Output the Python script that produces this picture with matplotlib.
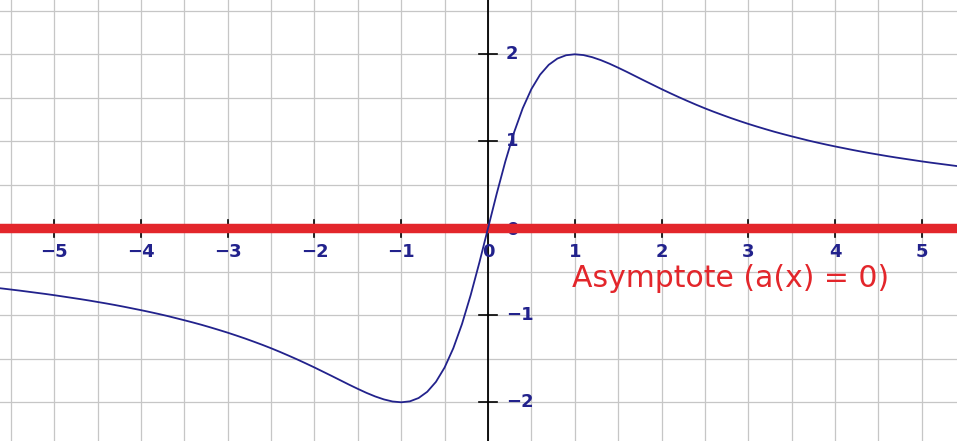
import matplotlib.pyplot as plt
import numpy as np

# curve a(x), sampled every 0.1 from -5.7 to 5.7
xs = np.round(np.arange(-57, 58) / 10, 1)
ys = [-0.681, -0.692, -0.704, -0.716, -0.729, -0.742, -0.755, -0.769, -0.784, -0.799,
      -0.814, -0.830, -0.847, -0.864, -0.882, -0.901, -0.921, -0.941, -0.962, -0.984,
      -1.007, -1.032, -1.057, -1.083, -1.110, -1.139, -1.169, -1.200, -1.233, -1.267,
      -1.303, -1.340, -1.379, -1.420, -1.463, -1.507, -1.553, -1.600, -1.649, -1.698,
      -1.748, -1.798, -1.846, -1.892, -1.933, -1.967, -1.991, -2.000, -1.989, -1.951,
      -1.879, -1.765, -1.600, -1.379, -1.101, -0.769, -0.396,
      0.000,
      0.396, 0.769, 1.101, 1.379, 1.600, 1.765, 1.879, 1.951, 1.989, 2.000,
      1.991, 1.967, 1.933, 1.892, 1.846, 1.798, 1.748, 1.698, 1.649, 1.600,
      1.553, 1.507, 1.463, 1.420, 1.379, 1.340, 1.303, 1.267, 1.233, 1.200,
      1.169, 1.139, 1.110, 1.083, 1.057, 1.032, 1.007, 0.984, 0.962, 0.941,
      0.921, 0.901, 0.882, 0.864, 0.847, 0.830, 0.814, 0.799, 0.784, 0.769,
      0.755, 0.742, 0.729, 0.716, 0.704, 0.692, 0.681]

x_ticks = [-5, -4, -3, -2, -1, 0, 1, 2, 3, 4, 5]
y_ticks = [-2, -1, 0, 1, 2]
asymptote_y = 0
asymptote_label = "Asymptote (a(x) = 0)"

navy = '#22228c'
red = '#e3262b'

fig = plt.figure(figsize=(9.57, 4.41), dpi=100)
ax = fig.add_axes([0, 0, 1, 1])
ax.set_xlim(-5.625, 5.406)
ax.set_ylim(-2.445, 2.624)

# half-unit grid
for gx in np.arange(-5.5, 5.6, 0.5):
    ax.axvline(gx, color='#c6c6c6', lw=0.9, zorder=0)
for gy in np.arange(-2.5, 2.6, 0.5):
    ax.axhline(gy, color='#c6c6c6', lw=0.9, zorder=0)


def fmt(t):
    return '\u2212%d' % -t if t < 0 else str(t)


# axes through the origin
ax.axvline(0, color='black', lw=1.3, zorder=2)
ax.axhline(0, color='black', lw=1.3, zorder=2)
for t in x_ticks:
    if t != 0:
        ax.plot([t, t], [-0.1, 0.1], color='black', lw=1.2, zorder=2)
    ax.annotate(fmt(t), (t, 0), xytext=(0, -17), textcoords='offset points',
                ha='center', va='center', fontsize=13, fontweight='bold',
                color=navy, zorder=3)
for t in y_ticks:
    if t != 0:
        ax.plot([-0.1, 0.1], [t, t], color='black', lw=1.2, zorder=2)
    ax.annotate(fmt(t), (0, t), xytext=(13, 0 if t else -1), textcoords='offset points',
                ha='left', va='center', fontsize=13, fontweight='bold',
                color=navy, zorder=3)

# horizontal asymptote
ax.axhline(asymptote_y, color=red, lw=6.8, zorder=4)
ax.plot(xs, ys, color=navy, lw=1.3, zorder=5)
ax.text(0.965, -0.675, asymptote_label, color=red, fontsize=21.5,
        ha='left', va='baseline', zorder=6)

ax.axis('off')
fig.savefig('out.png', dpi=100)
